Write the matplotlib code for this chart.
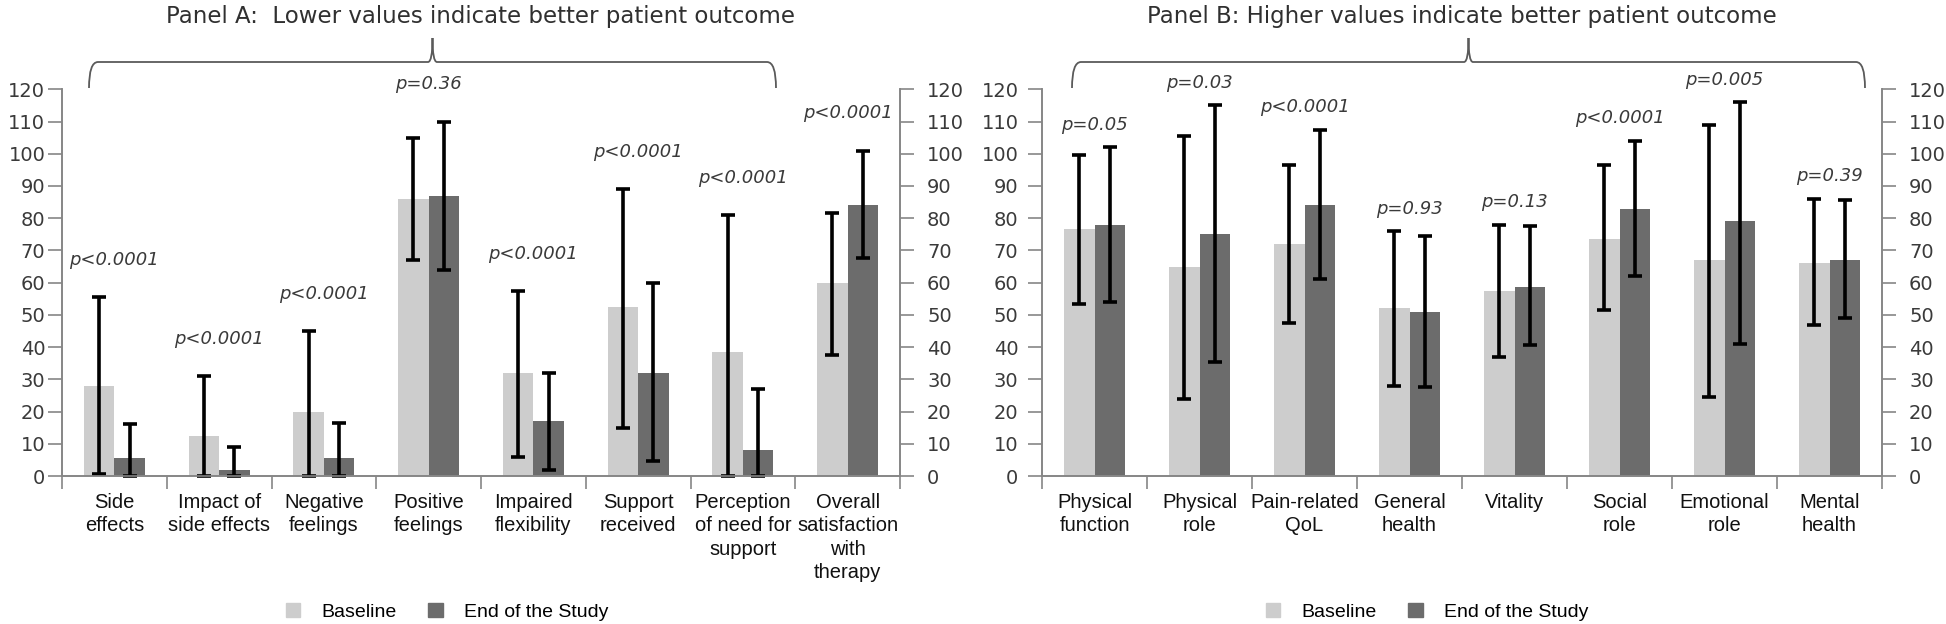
import matplotlib
matplotlib.use('Agg')
import matplotlib.pyplot as plt
import numpy as np
from matplotlib.path import Path
from matplotlib.patches import PathPatch, Patch
from matplotlib import font_manager

# Panel A: lower is better
cats_a = ['Side\neffects', 'Impact of\nside effects', 'Negative\nfeelings', 'Positive\nfeelings',
          'Impaired\nflexibility', 'Support\nreceived', 'Perception\nof need for\nsupport',
          'Overall\nsatisfaction\nwith\ntherapy']
base_a = [28, 12.5, 20, 86, 32, 52.5, 38.5, 60]
base_a_lo = [0.5, 0, 0, 67, 6, 15, 0, 37.5]
base_a_hi = [55.5, 31, 45, 105, 57.5, 89, 81, 81.5]
end_a = [5.5, 2, 5.5, 87, 17, 32, 8, 84]
end_a_lo = [0, 0, 0, 64, 2, 4.5, 0, 67.5]
end_a_hi = [16, 9, 16.5, 110, 32, 60, 27, 101]
p_a = ['p<0.0001', 'p<0.0001', 'p<0.0001', 'p=0.36', 'p<0.0001', 'p<0.0001', 'p<0.0001', 'p<0.0001']

# Panel B: higher is better
cats_b = ['Physical\nfunction', 'Physical\nrole', 'Pain-related\nQoL', 'General\nhealth',
          'Vitality', 'Social\nrole', 'Emotional\nrole', 'Mental\nhealth']
base_b = [76.5, 65, 72, 52, 57.5, 73.5, 67, 66]
base_b_lo = [53.5, 24, 47.5, 28, 37, 51.5, 24.5, 47]
base_b_hi = [99.5, 105.5, 96.5, 76, 78, 96.5, 109, 86]
end_b = [78, 75, 84, 51, 58.5, 83, 79, 67]
end_b_lo = [54, 35.5, 61, 27.5, 40.5, 62, 41, 49]
end_b_hi = [102, 115, 107.5, 74.5, 77.5, 104, 116, 85.5]
p_b = ['p=0.05', 'p=0.03', 'p<0.0001', 'p=0.93', 'p=0.13', 'p<0.0001', 'p=0.005', 'p=0.39']

titles = ['Panel A:  Lower values indicate better patient outcome',
          'Panel B: Higher values indicate better patient outcome']
series = ['Baseline', 'End of the Study']

LIGHT = '#cdcdcd'
DARK = '#6c6c6c'
AXC = '#868686'
TXT = '#3a3a3a'

names = {f.name for f in font_manager.fontManager.ttflist}
cat_font = 'DejaVu Sans'
for cand in ['Liberation Sans Narrow', 'DejaVu Sans Condensed', 'Liberation Sans']:
    if cand in names:
        cat_font = cand
        break

W, H = 1946, 624
fig = plt.figure(figsize=(W / 100, H / 100), dpi=100)


def px(x, y):
    return x / W, 1 - y / H


def style_y(ax, side, pad):
    ax.set_ylim(0, 120)
    ax.set_yticks(range(0, 121, 10))
    ax.tick_params(axis='y', which='major', left=(side == 'left'), right=(side == 'right'),
                   labelleft=(side == 'left'), labelright=(side == 'right'),
                   direction='out', length=10, width=1.2, color=AXC,
                   labelsize=14, labelcolor=TXT, pad=pad)


def panel(rect, cats, b, blo, bhi, e, elo, ehi, pv, p_off, left_pad):
    ax = fig.add_axes(rect)
    x = np.arange(len(cats))
    w = 0.29
    eb = dict(ecolor='black', elinewidth=2.6, capsize=4.8, capthick=2.6)
    ax.bar(x - w / 2, b, w, color=LIGHT, label=series[0], zorder=2)
    ax.bar(x + w / 2, e, w, color=DARK, label=series[1], zorder=2)
    ax.errorbar(x - w / 2, b, yerr=[np.subtract(b, blo), np.subtract(bhi, b)],
                fmt='none', zorder=3, clip_on=False, **eb)
    ax.errorbar(x + w / 2, e, yerr=[np.subtract(e, elo), np.subtract(ehi, e)],
                fmt='none', zorder=3, clip_on=False, **eb)
    for i in x:
        top = max(bhi[i], ehi[i]) + p_off
        ax.text(i, top, pv[i], ha='center', va='center', style='italic',
                fontsize=13, color=TXT)
    ax.set_xlim(-0.5, len(cats) - 0.5)
    style_y(ax, 'left', left_pad)
    ax2 = ax.twinx()
    style_y(ax2, 'right', 9.5)
    # category boundaries as major ticks, labels on minor ticks
    ax.set_xticks(np.arange(-0.5, len(cats), 1.0))
    ax.set_xticklabels([])
    ax.set_xticks(x, minor=True)
    ax.set_xticklabels(cats, minor=True, fontsize=14.5, family=cat_font,
                       color='#111111', linespacing=1.3, va='top')
    ax.tick_params(axis='x', which='major', direction='out', length=9, width=1.2, color=AXC)
    ax.tick_params(axis='x', which='minor', length=0, pad=12)
    for a in (ax, ax2):
        a.spines['top'].set_visible(False)
        for s in ['left', 'right', 'bottom']:
            a.spines[s].set_color(AXC)
            a.spines[s].set_linewidth(1.2)
    return ax


def brace(x0, x1, y_end=88, y_line=62, y_tip=38, r=9):
    xm = (x0 + x1) / 2
    verts = [(x0, y_end), (x0, y_line), (x0 + r, y_line),
             (xm - r / 2, y_line), (xm, y_line), (xm, y_tip),
             (xm, y_line), (xm + r / 2, y_line),
             (x1 - r, y_line), (x1, y_line), (x1, y_end)]
    codes = [Path.MOVETO, Path.CURVE3, Path.CURVE3,
             Path.LINETO, Path.CURVE3, Path.CURVE3,
             Path.CURVE3, Path.CURVE3,
             Path.LINETO, Path.CURVE3, Path.CURVE3]
    verts = [px(vx, vy) for vx, vy in verts]
    fig.patches.append(PathPatch(Path(verts, codes), fill=False, edgecolor='#5a5a5a',
                                 lw=1.3, transform=fig.transFigure))


rect_a = [62 / W, 1 - 476 / H, (900 - 62) / W, (476 - 89.3) / H]
rect_b = [1042 / W, 1 - 476 / H, (1882 - 1042) / W, (476 - 89.3) / H]
ax_a = panel(rect_a, cats_a, base_a, base_a_lo, base_a_hi, end_a, end_a_lo, end_a_hi, p_a, 11.5, 2)
ax_b = panel(rect_b, cats_b, base_b, base_b_lo, base_b_hi, end_b, end_b_lo, end_b_hi, p_b, 7, 7)

fig.text(*px(480, 16), titles[0], ha='center', va='center', fontsize=16.5, color='#303030')
fig.text(*px(1462, 16), titles[1], ha='center', va='center', fontsize=16.5, color='#303030')

brace(89, 776)
brace(1072, 1865)

handles = [Patch(color=LIGHT), Patch(color=DARK)]
for cx in (447, 1427):
    fig.legend(handles, series, loc='center', bbox_to_anchor=px(cx, 612), ncol=2,
               frameon=False, handlelength=0.75, handleheight=0.75, handletextpad=1.1,
               columnspacing=1.6, prop={'family': cat_font, 'size': 14})

fig.savefig('out.png', dpi=100)
